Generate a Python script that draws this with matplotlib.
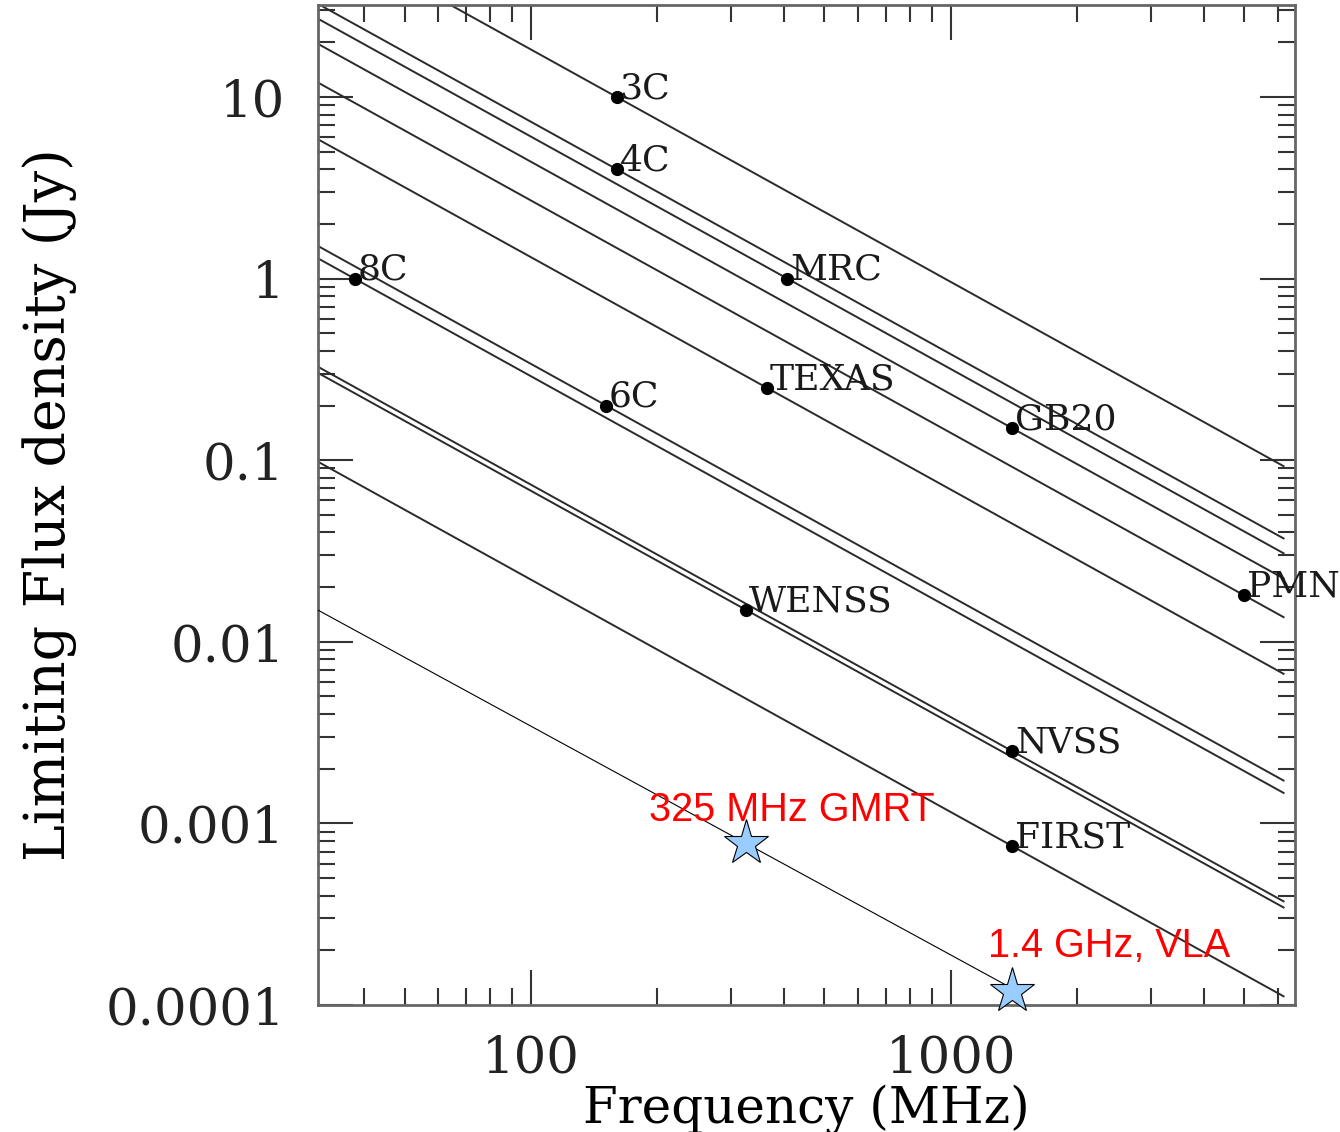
import numpy as np
import matplotlib.pyplot as plt
from matplotlib.ticker import LogLocator, NullFormatter

# survey sensitivity limits
surveys = ['3C', '4C', 'MRC', 'GB20', 'PMN', 'TEXAS', '6C', '8C', 'WENSS', 'NVSS', 'FIRST']
survey_freq = [160, 160, 408, 1400, 5000, 365, 151, 38, 325, 1400, 1400]      # MHz
survey_flux = [10, 4.0, 1.0, 0.15, 0.018, 0.25, 0.2, 1.0, 0.015, 0.0025, 0.00075]  # Jy

# spectral index of the constant-sensitivity lines, and their frequency span
alpha = -1.28
line_freq = [31, 6200]

# new observations
star_labels = ['325 MHz GMRT', '1.4 GHz, VLA']
star_freq = [325, 1400]
star_flux = [0.00078, 0.00012]
thin_freq = [31, 1450]
thin_flux = [0.0150, 0.000118]

x_ticks = [100, 1000]
x_tick_labels = ['100', '1000']
y_ticks = [1e-4, 1e-3, 1e-2, 1e-1, 1, 10]
y_tick_labels = ['0.0001', '0.001', '0.01', '0.1', '1', '10']

plt.rcParams['font.family'] = ['DejaVu Serif']

fig = plt.figure(figsize=(13.4, 11.32), dpi=100)
ax = fig.add_axes([0.2373, 0.1122, 0.7291, 0.8834])
ax.set_xscale('log')
ax.set_yscale('log')
ax.set_xlim(31.1, 6600)
ax.set_ylim(1e-4, 32.1)

lf = np.array(line_freq, dtype=float)
for name, f0, s0 in zip(surveys, survey_freq, survey_flux):
    ax.plot(lf, s0 * (lf / f0) ** alpha, color='#2a2a2a', lw=1.4, zorder=2)
    ax.plot(f0, s0, 'o', color='black', ms=8.5, zorder=4)
    ax.annotate(name, (f0, s0), xytext=(2, -1), textcoords='offset points',
                ha='left', va='baseline', fontsize=26, color='#1a1a1a', zorder=5)

# GMRT / VLA limits
ax.plot(thin_freq, thin_flux, color='black', lw=0.8, zorder=3)
ax.plot(star_freq, star_flux, '*', ms=34, markerfacecolor='#99ccff',
        markeredgecolor='black', markeredgewidth=0.8, linestyle='none',
        clip_on=False, zorder=6)
offsets = [(33, 16), (70, 24)]
for lab, f, s, off in zip(star_labels, star_freq, star_flux, offsets):
    ax.annotate(lab, (f, s), xytext=off, textcoords='offset points',
                ha='center', va='baseline', fontsize=28.5, color='red',
                family=['Liberation Sans', 'DejaVu Sans'], zorder=7)

ax.set_xticks(x_ticks)
ax.set_xticklabels(x_tick_labels)
ax.set_yticks(y_ticks)
ax.set_yticklabels(y_tick_labels)
ax.xaxis.set_minor_locator(LogLocator(base=10, subs=np.arange(2, 10)))
ax.yaxis.set_minor_locator(LogLocator(base=10, subs=np.arange(2, 10)))
ax.xaxis.set_minor_formatter(NullFormatter())
ax.yaxis.set_minor_formatter(NullFormatter())

ax.tick_params(which='both', direction='in', top=True, right=True, color='#333333')
ax.tick_params(which='major', length=25, width=1.5, labelsize=37,
               labelcolor='#222222')
ax.tick_params(axis='x', which='major', pad=21)
ax.tick_params(axis='y', which='major', pad=24)
ax.tick_params(which='minor', length=12.5, width=1.5)
for sp in ax.spines.values():
    sp.set_color('#666666')
    sp.set_linewidth(2)

ax.set_xlabel('Frequency (MHz)', fontsize=36, labelpad=0)
ax.set_ylabel('Limiting Flux density (Jy)', fontsize=40, labelpad=20)

fig.savefig('out.png', dpi=100)
